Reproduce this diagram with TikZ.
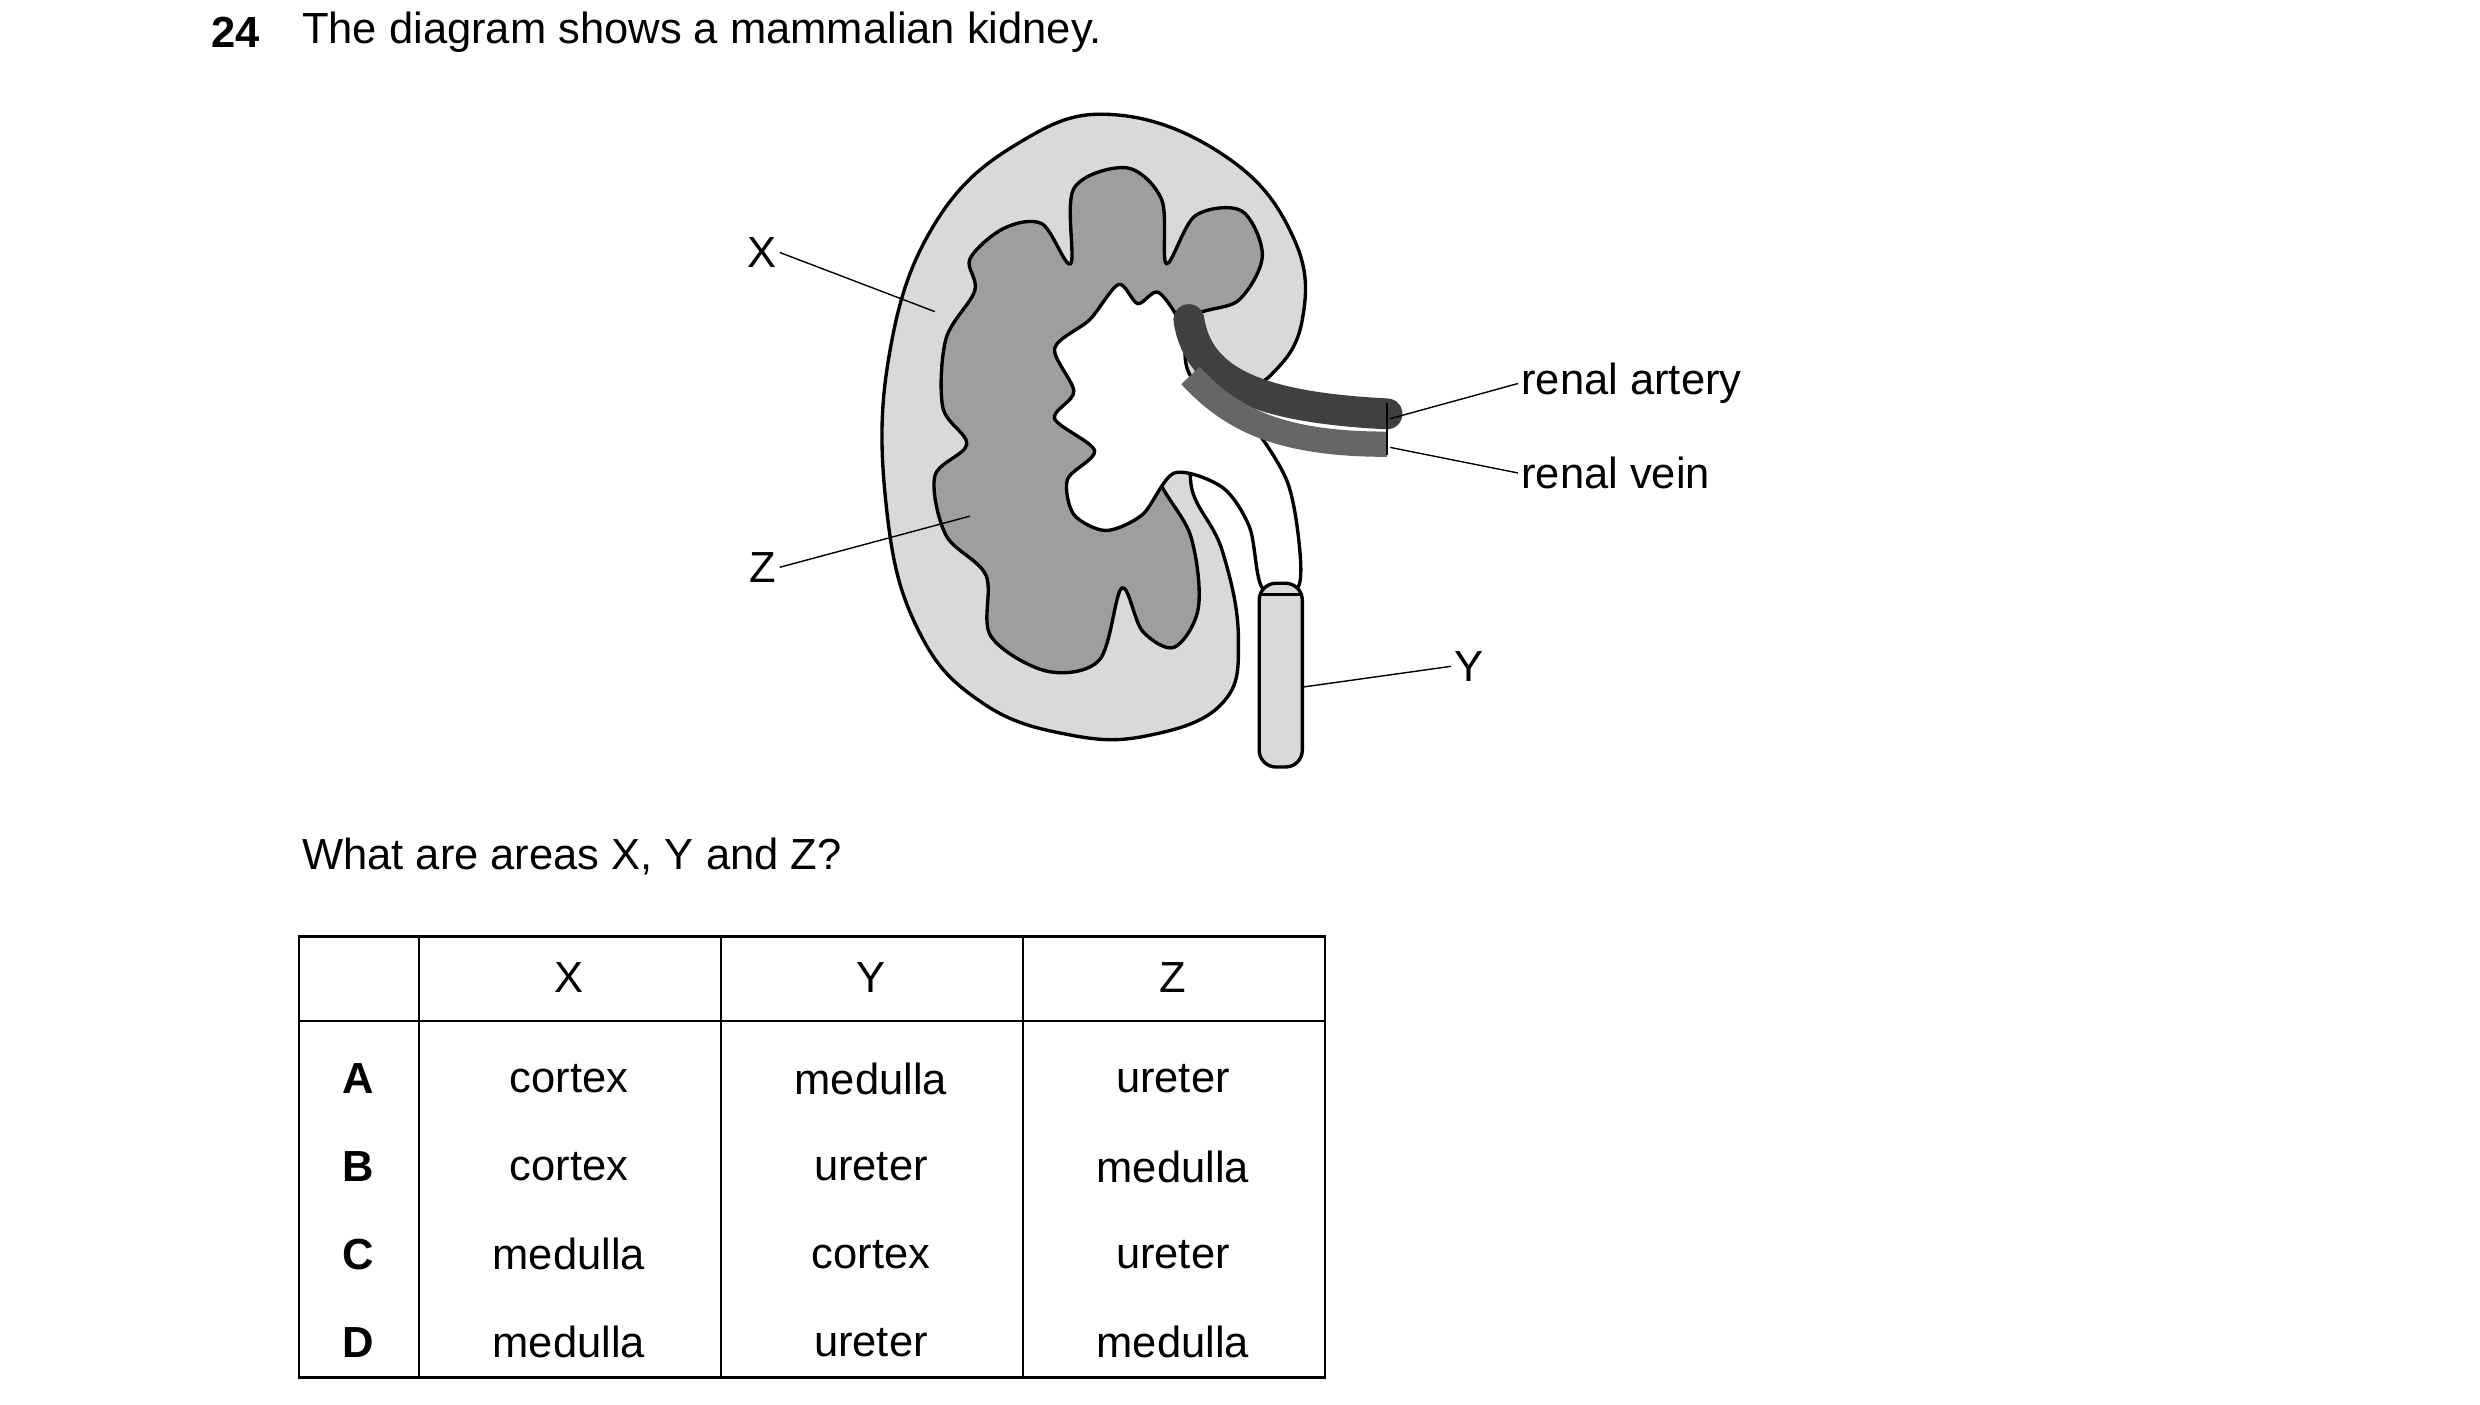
\documentclass[tikz,border=0pt]{standalone}
\usepackage{fontspec}
\setmainfont{Liberation Sans}
\usetikzlibrary{positioning}
\tikzset{
    lbl/.style={font=\fontsize{15.5}{18}\selectfont, inner sep=1pt},
    cell/.style={font=\fontsize{15.5}{18}\selectfont, anchor=center},
    lead/.style={draw, line width=0.5pt}
}
\begin{document}
\begin{tikzpicture}[x=0.02cm, y=-0.02cm]
    \useasboundingbox (0,0) rectangle (1552,879);
    % question
    \node[lbl, font=\fontsize{15.5}{18}\selectfont\bfseries, anchor=west] (num) at (130,20) {24};
    \node[lbl, anchor=west] (title) at (187,20) {The diagram shows a mammalian kidney.};

    % kidney outline (cortex)
    \draw[line width=1.2pt, fill=black!15] plot[smooth cycle, tension=0.7] coordinates {
        (640,88) (700,72) (770,100) (810,150) (815,200) (795,235) (760,255)
        (745,300) (765,345) (775,400) (765,440) (720,460) (670,460) (615,440)
        (575,395) (555,320) (556,225) (585,140)};
    % medulla
    \draw[line width=1.2pt, fill=black!38] plot[smooth cycle, tension=0.55] coordinates {
        (670,165) (672,118) (705,105) (727,125) (730,165) (748,135) (777,132)
        (790,160) (775,188) (745,200) (740,240) (722,290) (745,335) (750,380)
        (735,405) (715,395) (702,368) (688,413) (655,420) (620,398) (617,360)
        (592,335) (585,298) (605,278) (590,255) (592,212) (610,182) (607,162)
        (628,143) (652,140)};
    % pelvis
    \draw[line width=1.2pt, fill=white] plot[smooth cycle, tension=0.5] coordinates {
        (700,178) (712,190) (725,183) (740,205) (745,235) (780,262) (805,300)
        (813,340) (812,368) (790,368) (782,330) (765,305) (735,296) (715,322)
        (692,332) (672,322) (668,300) (685,282) (660,262) (672,245) (660,218)
        (682,200)};
    % ureter
    \draw[line width=1.2pt, fill=black!15, rounded corners=6pt]
        (788,365) -- (788,480) -- (815,480) -- (815,365) -- cycle;
    \draw[line width=1pt] (788,372) -- (815,372);
    % vessels
    \draw[line width=11pt, black!75, line cap=round] (744,200) .. controls (750,240) and (790,255) .. (868,259);
    \draw[line width=9pt, black!60] (745,235) .. controls (770,262) and (800,278) .. (868,278);
    \draw[line width=1pt] (868,252) -- (868,285);

    % labels
    \coordinate (xpt) at (585,195);
    \coordinate (zpt) at (607,323);
    \coordinate (ypt) at (815,430);
    \coordinate (apt) at (870,262);
    \coordinate (vpt) at (870,280);
    \node[lbl, anchor=east] (X) at (488,158) {X};
    \node[lbl, anchor=east] (Z) at (488,355) {Z};
    \node[lbl, anchor=west] (Y) at (908,417) {Y};
    \node[lbl, anchor=west] (art) at (950,240) {renal artery};
    \node[lbl, anchor=west] (vein) at (950,296) {renal vein};
    \draw[lead] (X.east) -- (xpt);
    \draw[lead] (Z.east) -- (zpt);
    \draw[lead] (Y.west) -- (ypt);
    \draw[lead] (art.west) -- (apt);
    \draw[lead] (vein.west) -- (vpt);

    \node[lbl, anchor=west] (ask) at (187,536) {What are areas X, Y and Z?};

    % table
    \draw[line width=0.8pt] (187,586) rectangle (829,862);
    \foreach \cx in {262,451,640} \draw[line width=0.8pt] (\cx,586) -- (\cx,862);
    \draw[line width=0.8pt] (187,639) -- (829,639);
    \node[cell] (hX) at (356,612) {X};
    \node[cell] (hY) at (545,612) {Y};
    \node[cell] (hZ) at (734,612) {Z};
    \foreach \r/\ry/\a/\b/\c in {A/675/cortex/medulla/ureter, B/730/cortex/ureter/medulla,
        C/785/medulla/cortex/ureter, D/840/medulla/ureter/medulla} {
        \node[cell, font=\fontsize{15.5}{18}\selectfont\bfseries] (row\r) at (224,\ry) {\r};
        \node[cell] (x\r) at (356,\ry) {\a};
        \node[cell] (y\r) at (545,\ry) {\b};
        \node[cell] (z\r) at (734,\ry) {\c};
    }
\end{tikzpicture}
\end{document}
